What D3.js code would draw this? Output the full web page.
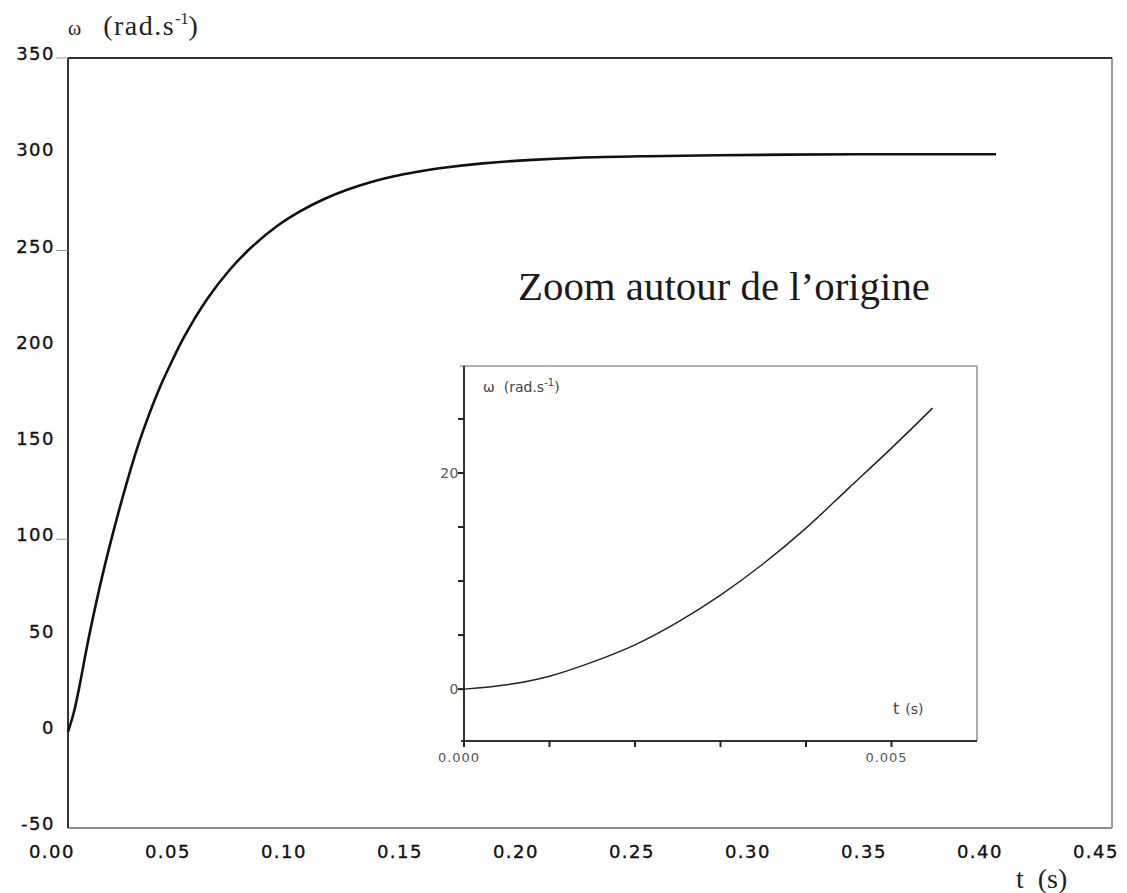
<!DOCTYPE html>
<html>
<head>
<meta charset="utf-8">
<script src="https://cdn.jsdelivr.net/npm/d3@7"></script>
<style>
  html, body { margin: 0; padding: 0; background: #fff; }
  svg { display: block; }
</style>
</head>
<body>
<svg id="chart" width="1127" height="893"></svg>
<script>
// Angular speed step response of the motor, omega(t)
const mainTime  = [0, 0.0025, 0.005, 0.0075, 0.01, 0.015, 0.02, 0.025, 0.03, 0.035, 0.04, 0.045, 0.05,
                   0.06, 0.07, 0.08, 0.09, 0.10, 0.11, 0.12, 0.13, 0.14, 0.15, 0.16, 0.18, 0.20,
                   0.22, 0.25, 0.28, 0.31, 0.34, 0.37, 0.40];
const mainOmega = [0, 10, 24, 40, 55, 82, 106, 128, 148, 165, 180, 193, 205,
                   224.8, 240.4, 252.7, 262.6, 270.3, 276.5, 281.4, 285.3, 288.4, 290.8, 292.7, 295.4, 297.1,
                   298.2, 299.0, 299.5, 299.8, 300, 300, 300];

// Close-up of the first milliseconds
const zoomTime  = [0, 0.0005, 0.001, 0.0015, 0.002, 0.0025, 0.003, 0.0035, 0.004, 0.0045, 0.005, 0.00548];
const zoomOmega = [0, 0.4, 1.2, 2.5, 4.1, 6.2, 8.7, 11.6, 14.9, 18.6, 22.3, 26.0];

const mainYTicks = [350, 300, 250, 200, 150, 100, 50, 0, -50];
const mainYTickMarks = [350, 250, 100];
const mainXTicks = [0, 0.05, 0.10, 0.15, 0.20, 0.25, 0.30, 0.35, 0.40, 0.45];
const zoomYTicks = [0, 5, 10, 15, 20, 25];
const zoomYLabels = [0, 20];
const zoomXTicks = [0, 0.001, 0.002, 0.003, 0.004, 0.005];
const zoomXLabels = [0, 0.005];

const svg = d3.select("#chart");

// ---------- main chart ----------
const x = d3.scaleLinear().domain([0, 0.45]).range([68, 1112]);
const y = d3.scaleLinear().domain([-50, 350]).range([828, 58]);

const tickFont = "'DejaVu Sans', Verdana, sans-serif";
const serif = "'Liberation Serif', 'Times New Roman', serif";

// frame: dark left/top, grey right/bottom
svg.append("line").attr("x1", x(0)).attr("x2", x(0.45)).attr("y1", y(-50)).attr("y2", y(-50))
  .attr("stroke", "#8a8a8a").attr("stroke-width", 2);
svg.append("line").attr("x1", x(0.45)).attr("x2", x(0.45)).attr("y1", y(350)).attr("y2", y(-50))
  .attr("stroke", "#9a9a9a").attr("stroke-width", 2);
svg.append("line").attr("x1", x(0)).attr("x2", x(0.45)).attr("y1", y(350)).attr("y2", y(350))
  .attr("stroke", "#333").attr("stroke-width", 2);
svg.append("line").attr("x1", x(0)).attr("x2", x(0)).attr("y1", y(350)).attr("y2", y(-50))
  .attr("stroke", "#333").attr("stroke-width", 2);

svg.selectAll(".ytm").data(mainYTickMarks).enter().append("line")
  .attr("x1", x(0) - 12).attr("x2", x(0)).attr("y1", d => y(d)).attr("y2", d => y(d))
  .attr("stroke", "#999").attr("stroke-width", 1);

svg.selectAll(".ylab").data(mainYTicks).enter().append("text")
  .attr("x", x(0) - 13).attr("y", d => y(d) + 2)
  .attr("text-anchor", "end")
  .style("font-family", tickFont).style("font-size", "18px").style("letter-spacing", "1.5px")
  .attr("fill", "#111").attr("stroke", "#111").attr("stroke-width", 0.35)
  .text(d => d);

svg.selectAll(".xlab").data(mainXTicks).enter().append("text")
  .attr("x", d => x(d) + 7).attr("y", 858)
  .attr("text-anchor", "end")
  .style("font-family", tickFont).style("font-size", "18px").style("letter-spacing", "1.5px")
  .attr("fill", "#111").attr("stroke", "#111").attr("stroke-width", 0.35)
  .text(d => d.toFixed(2));

// axis titles
const yTitle = svg.append("text").attr("x", 68).attr("y", 35)
  .style("font-family", serif).style("font-size", "28px")
  .attr("fill", "#222");
yTitle.append("tspan").style("font-size", "20px").text("ω");
yTitle.append("tspan").attr("dx", 22).style("letter-spacing", "1.5px").text("(rad.s");
yTitle.append("tspan").attr("dy", -11).style("font-size", "16px").text("-1");
yTitle.append("tspan").attr("dy", 11).text(")");

const xTitle = svg.append("text").attr("x", 1016).attr("y", 888)
  .style("font-family", serif).style("font-size", "28px")
  .attr("fill", "#222");
xTitle.append("tspan").text("t");
xTitle.append("tspan").attr("dx", 14).text("(s)");

// curve
const mainLine = d3.line().x((d, i) => x(mainTime[i])).y(d => y(d)).curve(d3.curveCatmullRom.alpha(0.5));
svg.append("path").datum(mainOmega)
  .attr("d", mainLine)
  .attr("fill", "none").attr("stroke", "#111").attr("stroke-width", 2.6);

// caption of the inset
svg.append("text").attr("x", 518).attr("y", 300)
  .attr("textLength", 412).attr("lengthAdjust", "spacingAndGlyphs")
  .style("font-family", serif).style("font-size", "39px")
  .attr("fill", "#1a1a1a")
  .text("Zoom autour de l\u2019origine");

// ---------- inset ----------
const zx = d3.scaleLinear().domain([0, 0.006]).range([464, 977]);
const zy = d3.scaleLinear().domain([-4.8, 29.9]).range([741, 366]);

const g = svg.append("g");
g.append("rect").attr("x", zx(0)).attr("y", zy(29.9)).attr("width", zx(0.006) - zx(0)).attr("height", zy(-4.8) - zy(29.9))
  .attr("fill", "#fff");
g.append("line").attr("x1", zx(0) - 4).attr("x2", zx(0.006)).attr("y1", zy(29.9)).attr("y2", zy(29.9))
  .attr("stroke", "#9a9a9a").attr("stroke-width", 1.6);
g.append("line").attr("x1", zx(0.006)).attr("x2", zx(0.006)).attr("y1", zy(29.9)).attr("y2", zy(-4.8))
  .attr("stroke", "#9a9a9a").attr("stroke-width", 1.6);
g.append("line").attr("x1", zx(0) - 3).attr("x2", zx(0.006)).attr("y1", zy(-4.8)).attr("y2", zy(-4.8))
  .attr("stroke", "#333").attr("stroke-width", 2);
g.append("line").attr("x1", zx(0)).attr("x2", zx(0)).attr("y1", zy(29.9)).attr("y2", zy(-4.8) + 3)
  .attr("stroke", "#333").attr("stroke-width", 2);

g.selectAll(".zyt").data(zoomYTicks).enter().append("line")
  .attr("x1", zx(0) - 6).attr("x2", zx(0)).attr("y1", d => zy(d)).attr("y2", d => zy(d))
  .attr("stroke", "#222").attr("stroke-width", 2);
g.selectAll(".zxt").data(zoomXTicks).enter().append("line")
  .attr("x1", d => zx(d)).attr("x2", d => zx(d)).attr("y1", zy(-4.8)).attr("y2", zy(-4.8) + 6)
  .attr("stroke", "#222").attr("stroke-width", 2);

const smallFont = "'DejaVu Sans', Verdana, sans-serif";
g.selectAll(".zyl").data(zoomYLabels).enter().append("text")
  .attr("x", zx(0) - 5).attr("y", d => zy(d) + 5)
  .attr("text-anchor", "end")
  .style("font-family", smallFont).style("font-size", "14px").style("letter-spacing", "0.5px")
  .attr("fill", "#555")
  .text(d => d);
g.selectAll(".zxl").data(zoomXLabels).enter().append("text")
  .attr("x", d => zx(d) - 5).attr("y", 762)
  .attr("text-anchor", "middle")
  .style("font-family", smallFont).style("font-size", "13px").style("letter-spacing", "1px")
  .attr("fill", "#555")
  .text(d => d.toFixed(3));

const zTitle = g.append("text").attr("x", 483).attr("y", 392)
  .style("font-family", smallFont).style("font-size", "14px").attr("fill", "#444");
zTitle.append("tspan").text("ω");
zTitle.append("tspan").attr("dx", 9).text("(rad.s");
zTitle.append("tspan").attr("dy", -6).style("font-size", "10px").text("-1");
zTitle.append("tspan").attr("dy", 6).text(")");

const zxTitle = g.append("text").attr("x", 893).attr("y", 714)
  .style("font-family", smallFont).style("font-size", "16px").attr("fill", "#444");
zxTitle.append("tspan").text("t");
zxTitle.append("tspan").attr("dx", 6).style("font-size", "14px").text("(s)");

const zoomLine = d3.line().x((d, i) => zx(zoomTime[i])).y(d => zy(d)).curve(d3.curveCatmullRom.alpha(0.5));
g.append("path").datum(zoomOmega)
  .attr("d", zoomLine)
  .attr("fill", "none").attr("stroke", "#222").attr("stroke-width", 1.5);
</script>
</body>
</html>
